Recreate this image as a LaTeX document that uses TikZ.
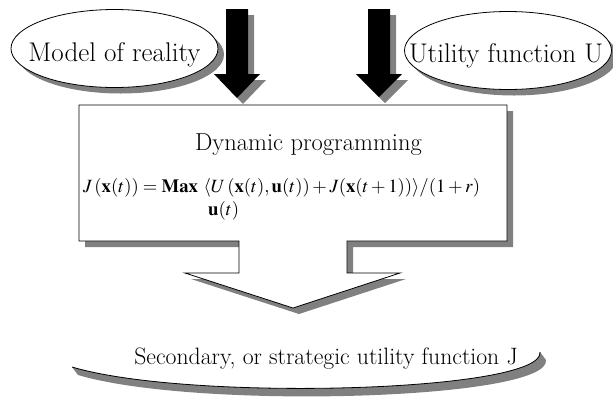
\documentclass[tikz,border=0pt]{standalone}
\usepackage{mathptmx}
\usetikzlibrary{shapes.geometric,shadows}
\definecolor{shadowgray}{RGB}{128,128,128}
\tikzset{
  myshadow/.style={drop shadow={shadow xshift=6pt, shadow yshift=-6pt, fill=shadowgray, opacity=1}},
  bubble/.style={ellipse, draw, line width=0.8pt, fill=white, inner sep=0pt, minimum width=207pt, minimum height=78pt, myshadow},
  bigarrow/.style={fill=black, myshadow}
}
\begin{document}
\begin{tikzpicture}[x=1pt, y=-1pt]
    \useasboundingbox (0,0) rectangle (613,400);
    % inputs
    \node[bubble] (model) at (114.5,48.5) {};
    \node[anchor=base, font=\fontsize{27}{30}\selectfont] (modeltext) at (114.5,61.5) {Model of reality};
    \node[bubble] (utility) at (508,50.5) {};
    \node[anchor=base, font=\fontsize{27}{30}\selectfont] (utilitytext) at (506,62) {Utility function U};
    % arrows into the box
    \fill[bigarrow] (226,9) -- (248,9) -- (248,74) -- (260,74) -- (237,98) -- (214,74) -- (226,74) -- cycle;
    \fill[bigarrow] (368,9) -- (390,9) -- (390,74) -- (402,74) -- (379,97) -- (356,74) -- (368,74) -- cycle;
    % box with outgoing arrow
    \draw[line width=0.8pt, fill=white, myshadow] (79,105) -- (507,105) -- (507,241) -- (347,241) -- (347,273)
        -- (400,273) -- (293,308) -- (185,273) -- (239,273) -- (239,241) -- (79,241) -- cycle;
    \node[anchor=base, font=\fontsize{24.5}{28}\selectfont] (dp) at (308.5,150) {Dynamic programming};
    \node[anchor=base west, inner sep=0pt, font=\fontsize{18.7}{22}\selectfont] (bellman) at (83,192)
        {$J\,(\mathbf{x}(t)) = \mathbf{Max}\ \langle U\,(\mathbf{x}(t), \mathbf{u}(t)) + J(\mathbf{x}(t+1))\rangle/(1+r)$};
    \node[anchor=base west, inner sep=0pt, font=\fontsize{18.7}{22}\selectfont] (control) at (208,215) {$\mathbf{u}(t)$};
    % output
    \fill[shadowgray] (72,367) .. controls (190,402) and (545,392) .. (540,352)
        -- (546,360) .. controls (551,400) and (196,410) .. (78,375) -- cycle;
    \draw[line width=0.8pt] (72,367) .. controls (190,402) and (545,392) .. (540,352);
    \node[anchor=base, font=\fontsize{23.7}{28}\selectfont] (strategic) at (326,364) {Secondary, or strategic utility function J};
\end{tikzpicture}
\end{document}
